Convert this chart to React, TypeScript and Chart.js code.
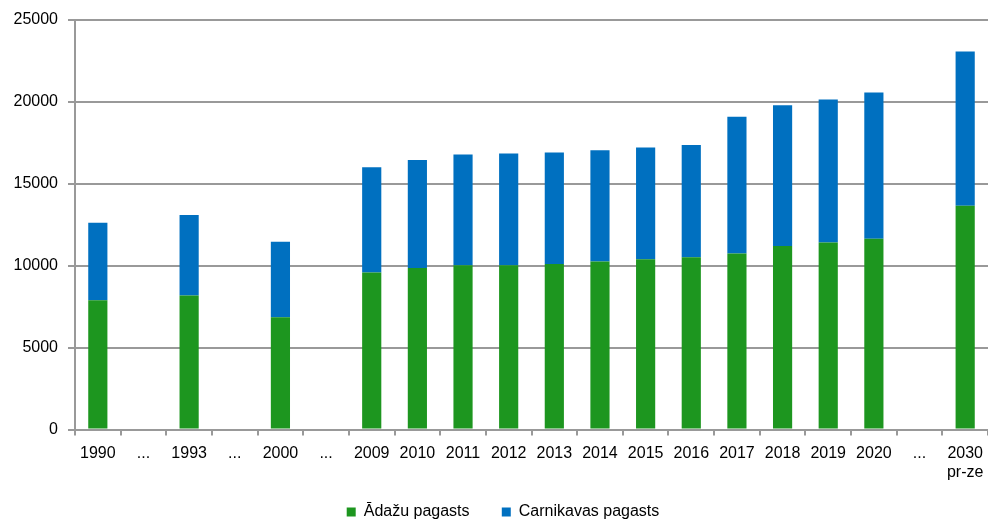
import React, { useEffect, useRef } from "react";
import { Chart, registerables } from "chart.js";

Chart.register(...registerables);

const categories: (string | string[])[] = [
  "1990", "...", "1993", "...", "2000", "...",
  "2009", "2010", "2011", "2012", "2013", "2014", "2015", "2016",
  "2017", "2018", "2019", "2020", "...", ["2030", "pr-ze"],
];

const adazuValues: (number | null)[] = [
  7880, null, 8170, null, 6850, null,
  9580, 9860, 10020, 10020, 10090, 10250, 10390, 10510,
  10740, 11190, 11410, 11630, null, 13650,
];

const carnikavasValues: (number | null)[] = [
  4730, null, 4910, null, 4600, null,
  6420, 6580, 6750, 6810, 6800, 6780, 6810, 6850,
  8330, 8590, 8720, 8930, null, 9410,
];

const yTicks = [0, 5000, 10000, 15000, 20000, 25000];

const seriesNames = ["Ādažu pagasts", "Carnikavas pagasts"];

const legendShift = {
  id: "legendShift",
  afterLayout(chart: any) {
    if (chart.legend) {
      chart.legend.left += 18;
    }
  },
};

export default function App() {
  const canvasRef = useRef<HTMLCanvasElement | null>(null);

  useEffect(() => {
    document.body.style.margin = "0";
    const canvas = canvasRef.current;
    if (!canvas) return;
    const font = { family: "'Liberation Sans', Arial, sans-serif", size: 16 };
    const chart = new Chart(canvas, {
      type: "bar",
      data: {
        labels: categories,
        datasets: [
          {
            label: seriesNames[0],
            data: adazuValues,
            backgroundColor: "#1d961f",
            borderWidth: 0,
            barPercentage: 0.42,
            categoryPercentage: 1,
          },
          {
            label: seriesNames[1],
            data: carnikavasValues,
            backgroundColor: "#0070c0",
            borderWidth: 0,
            barPercentage: 0.42,
            categoryPercentage: 1,
          },
        ],
      },
      plugins: [legendShift],
      options: {
        animation: false,
        responsive: false,
        maintainAspectRatio: false,
        layout: { padding: { top: 12, right: 0, left: 0, bottom: -8 } },
        plugins: {
          tooltip: { enabled: false },
          legend: {
            position: "bottom",
            labels: {
              font,
              color: "#000",
              boxWidth: 9,
              boxHeight: 9,
              padding: 10,
              generateLabels: (c: any) => {
                const items = Chart.defaults.plugins.legend.labels.generateLabels(c);
                return items.map((it: any, i: number) =>
                  i < items.length - 1 ? { ...it, text: it.text + "     " } : it
                );
              },
            },
          },
        },
        scales: {
          x: {
            stacked: true,
            grid: {
              offset: true,
              drawOnChartArea: false,
              drawTicks: true,
              tickLength: 6,
              color: "#999",
              lineWidth: 2,
            },
            border: { color: "#999", width: 2 },
            ticks: { font, color: "#000", maxRotation: 0, autoSkip: false, padding: 8 },
            afterFit: (scale: any) => {
              scale.height += 4;
              scale.paddingRight = 0;
            },
          },
          y: {
            stacked: true,
            min: 0,
            max: 25000,
            afterBuildTicks: (scale: any) => {
              scale.ticks = yTicks.map((v) => ({ value: v }));
            },
            afterFit: (scale: any) => {
              scale.width = 75;
            },
            grid: {
              color: "#999",
              lineWidth: 2,
              drawTicks: true,
              tickLength: 7,
            },
            border: { color: "#999", width: 2 },
            ticks: {
              font,
              color: "#000",
              padding: 10,
              callback: (v: any) => String(v),
            },
          },
        },
      },
    });
    return () => chart.destroy();
  }, []);

  return <canvas ref={canvasRef} width={988} height={522} style={{ display: "block" }} />;
}
